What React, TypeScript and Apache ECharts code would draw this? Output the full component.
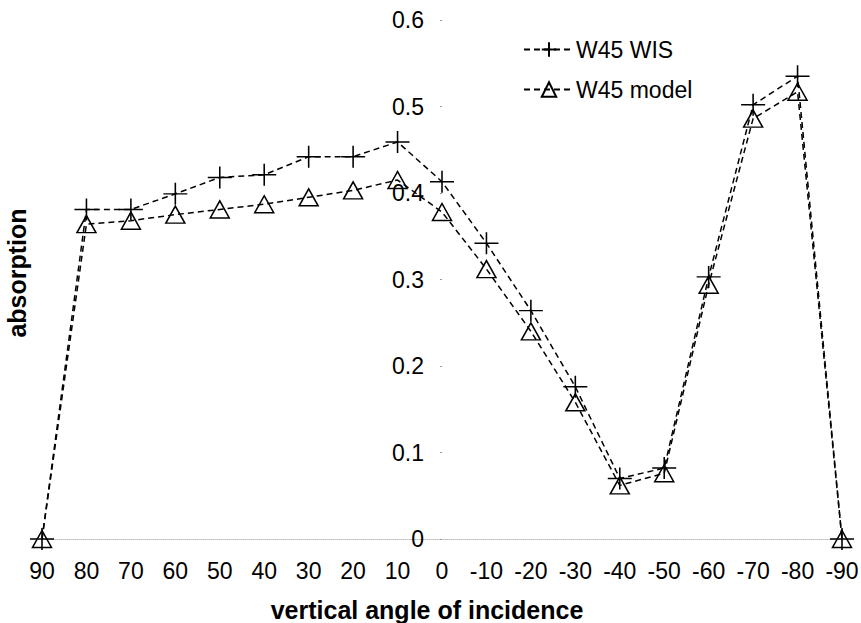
import React, { useEffect, useRef } from "react";
import * as echarts from "echarts";

const angles = [90, 80, 70, 60, 50, 40, 30, 20, 10, 0, -10, -20, -30, -40, -50, -60, -70, -80, -90];
const wisValues = [0, 0.381, 0.381, 0.399, 0.418, 0.421, 0.442, 0.442, 0.459, 0.413, 0.342, 0.264, 0.176, 0.07, 0.082, 0.303, 0.502, 0.535, 0];
const modelValues = [0, 0.364, 0.368, 0.375, 0.381, 0.387, 0.395, 0.403, 0.415, 0.378, 0.312, 0.24, 0.158, 0.062, 0.076, 0.294, 0.486, 0.517, 0];
const seriesNames = ["W45 WIS", "W45 model"];
const xAxisTitle = "vertical angle of incidence";
const yAxisTitle = "absorption";

const FONT = "'Liberation Sans', Arial, sans-serif";
const PLUS = "path://M12,0L12,22M0,11L24,11";

export default function App() {
  const ref = useRef<HTMLDivElement>(null);
  useEffect(() => {
    if (!ref.current) return;
    const chart = echarts.init(ref.current, null, { renderer: "svg" });
    const pair = (vals: number[]) => angles.map((a, i) => [a, vals[i]]);
    chart.setOption({
      animation: false,
      backgroundColor: "#fff",
      textStyle: { fontFamily: FONT, color: "#000" },
      grid: { left: 42, right: 19, top: 20, bottom: 84, containLabel: false, outerBoundsMode: "none" },
      legend: {
        orient: "vertical",
        left: 518,
        top: 33,
        itemWidth: 50,
        itemHeight: 18,
        itemGap: 17,
        textStyle: { fontFamily: FONT, fontSize: 23, color: "#000", padding: [0, 0, 0, -3] },
        data: seriesNames,
      },
      xAxis: {
        type: "value",
        min: -90,
        max: 90,
        interval: 10,
        inverse: true,
        name: xAxisTitle,
        nameLocation: "middle",
        nameGap: 58,
        nameTextStyle: { fontFamily: FONT, fontSize: 25, fontWeight: "bold", color: "#000", padding: [0, 30, 0, 0] },
        axisLine: { show: true, onZero: false, lineStyle: { color: "#bbb", type: "dotted", width: 1 } },
        axisTick: { show: false },
        splitLine: { show: false },
        axisLabel: { fontFamily: FONT, fontSize: 23, color: "#000", margin: 20 },
      },
      yAxis: {
        type: "value",
        min: 0,
        max: 0.6,
        interval: 0.1,
        offset: -400,
        axisLine: { show: false, onZero: false },
        axisTick: { show: true, length: 2, lineStyle: { color: "#999" } },
        splitLine: { show: false },
        axisLabel: { fontFamily: FONT, fontSize: 23, color: "#000", margin: 18 },
      },
      graphic: [
        {
          type: "text",
          x: 17,
          y: 273,
          rotation: Math.PI / 2,
          style: {
            text: yAxisTitle,
            font: `bold 25px ${FONT}`,
            fill: "#000",
            textAlign: "center",
            textVerticalAlign: "middle",
          },
        },
      ],
      series: [
        {
          name: seriesNames[1],
          type: "line",
          data: pair(modelValues),
          symbol: "triangle",
          symbolSize: [19, 17],
          z: 2,
          lineStyle: { color: "#000", width: 1.5, type: [6, 4] },
          itemStyle: { color: "transparent", borderColor: "#000", borderWidth: 1.5 },
        },
        {
          name: seriesNames[0],
          type: "line",
          data: pair(wisValues),
          symbol: PLUS,
          symbolSize: [24, 22],
          z: 3,
          lineStyle: { color: "#000", width: 1.5, type: [6, 4] },
          itemStyle: { color: "transparent", borderColor: "#000", borderWidth: 1.5 },
        },
      ],
    });
    return () => chart.dispose();
  }, []);
  return <div ref={ref} style={{ width: 861, height: 623, position: "absolute", left: 0, top: 0 }} />;
}
